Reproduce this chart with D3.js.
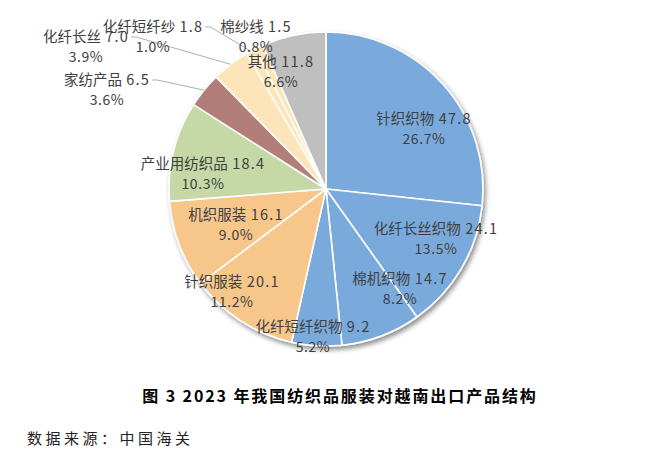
<!DOCTYPE html>
<html>
<head>
  <meta charset="utf-8">
  <title>2023 年我国纺织品服装对越南出口产品结构</title>
  <style>
    body { margin: 0; background: #fff; }
    svg text { font-family: "Noto Sans CJK SC", sans-serif; }
  </style>
</head>
<body>
  <div id="chart"></div>

  <script src="https://cdn.jsdelivr.net/npm/d3@7/dist/d3.min.js"></script>
  <script type="text/javascript">

  // data (亿美元 / share)
  var names = ['针织织物', '化纤长丝织物', '棉机织物', '化纤短纤织物', '针织服装', '机织服装',
               '产业用纺织品', '家纺产品', '化纤长丝', '化纤短纤纱', '棉纱线', '其他'];
  var values = [47.8, 24.1, 14.7, 9.2, 20.1, 16.1, 18.4, 6.5, 7.0, 1.8, 1.5, 11.8];
  var shares = ['26.7%', '13.5%', '8.2%', '5.2%', '11.2%', '9.0%', '10.3%', '3.6%', '3.9%', '1.0%', '0.8%', '6.6%'];

  // layout
  var width = 651, height = 454;
  var cx = 326, cy = 189, r = 157;
  var colors = ['#7aaadc', '#7aaadc', '#7aaadc', '#7aaadc', '#f7c68a', '#f7c68a',
                '#c5d8a6', '#b27e79', '#fbe5b9', '#fbe5b9', '#fbe5b9', '#bfbfbf'];
  // label centre (first line), relative to pie centre; lead = draw a leader line
  var labelAt = [
    [98, -72], [110, 38], [74, 88], [-13, 136], [-94, 91], [-90, 24],
    [-123, -27], [-219, -111], [-240, -154], [-173, -164], [-70, -164], [-45, -129]
  ];
  var lead = [false, false, false, false, false, false, false, true, true, true, false, false];

  var svg = d3.select('#chart')
              .append('svg')
              .attr('width', width)
              .attr('height', height);

  var defs = svg.append('defs');
  var f = defs.append('filter').attr('id', 'shadow')
              .attr('x', '-10%').attr('y', '-10%').attr('width', '125%').attr('height', '125%');
  f.append('feDropShadow')
   .attr('dx', 2).attr('dy', 3).attr('stdDeviation', 2.5)
   .attr('flood-color', '#000').attr('flood-opacity', 0.45);

  var pie = d3.pie().sort(null).value(function(d){ return d; });
  var arcs = pie(values);

  var arc = d3.arc().innerRadius(0).outerRadius(r);
  var edge = d3.arc().innerRadius(r).outerRadius(r);

  var g = svg.append('g').attr('transform', 'translate(' + cx + ',' + cy + ')');

  g.append('g')
    .attr('filter', 'url(#shadow)')
    .selectAll('path')
    .data(arcs)
    .enter().append('path')
      .attr('d', arc)
      .attr('fill', function(d, i){ return colors[i]; })
      .attr('stroke', '#fff')
      .attr('stroke-width', 1.6)
      .attr('stroke-linejoin', 'round');

  var labels = g.append('g');

  arcs.forEach(function(d, i){
    var p = labelAt[i];
    var t1 = labels.append('text')
      .attr('x', p[0]).attr('y', p[1])
      .attr('text-anchor', 'middle')
      .attr('dominant-baseline', 'central')
      .attr('font-size', 14.5)
      .attr('fill', '#404040');
    t1.append('tspan').text(names[i]);
    t1.append('tspan').attr('letter-spacing', 1.2)
      .text('  ' + values[i].toFixed(1));

    labels.append('text')
      .attr('x', p[0]).attr('y', p[1] + 20.5)
      .attr('text-anchor', 'middle')
      .attr('dominant-baseline', 'central')
      .attr('font-size', 14)
      .attr('letter-spacing', 0.6)
      .attr('fill', '#404040')
      .text(shares[i]);

    if(lead[i]){
      var w = t1.node().getComputedTextLength();
      var x0 = p[0] + w/2 + 2, y0 = p[1] + 2;
      var e = edge.centroid(d);
      labels.insert('polyline', ':first-child')
        .attr('points', [[x0, y0], [x0 + 5, y0], e].join(' '))
        .attr('fill', 'none')
        .attr('stroke', '#a6a6a6')
        .attr('stroke-width', 0.9);
    }
  });

  // caption and source
  svg.append('text')
    .attr('x', 340).attr('y', 395)
    .attr('text-anchor', 'middle')
    .attr('dominant-baseline', 'central')
    .attr('font-size', 16)
    .attr('font-weight', 'bold')
    .attr('letter-spacing', 1.9)
    .attr('fill', '#000')
    .text('图 3 2023 年我国纺织品服装对越南出口产品结构');

  svg.append('text')
    .attr('x', 27).attr('y', 437)
    .attr('dominant-baseline', 'central')
    .attr('font-size', 15)
    .attr('letter-spacing', 3.5)
    .attr('fill', '#222')
    .text('数据来源：中国海关');

  </script>
</body>
</html>
